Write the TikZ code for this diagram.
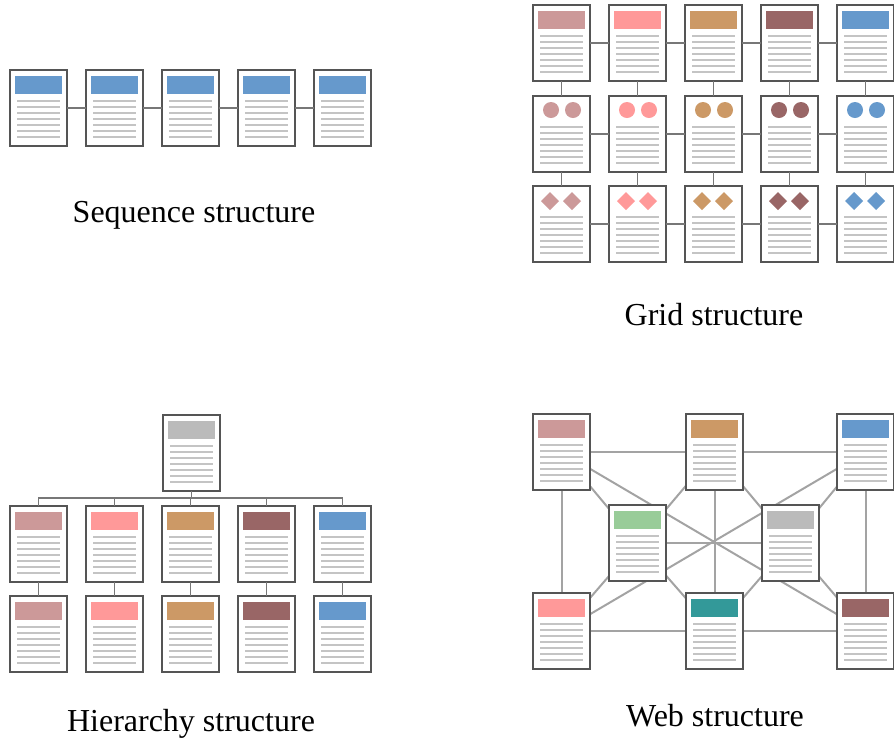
\documentclass[tikz,border=0pt]{standalone}
\usepackage{fontspec}
\setmainfont{Liberation Serif}
\usetikzlibrary{backgrounds}

\definecolor{boxgrey}{HTML}{555555}
\definecolor{textgrey}{HTML}{C4C4C4}
\definecolor{linkgrey}{HTML}{777777}
\definecolor{webgrey}{HTML}{A3A3A3}
\definecolor{rose}{HTML}{CC9999}
\definecolor{pink}{HTML}{FF9999}
\definecolor{tan}{HTML}{CC9966}
\definecolor{maroon}{HTML}{996666}
\definecolor{steel}{HTML}{6699CC}
\definecolor{ash}{HTML}{BBBBBB}
\definecolor{leaf}{HTML}{99CC99}
\definecolor{teal}{HTML}{339999}

\tikzstyle{pagebox}=[draw=boxgrey, line width=1pt, fill=white, minimum width=28.5pt, minimum height=38pt, inner sep=0pt, outer sep=0pt]
\tikzstyle{textline}=[draw=textgrey, line width=0.9pt]
\tikzstyle{link}=[draw=linkgrey, line width=0.9pt]
\tikzstyle{weblink}=[draw=webgrey, line width=1pt]
\tikzstyle{caption}=[anchor=base, font=\fontsize{16}{19}\selectfont]

\newcommand{\headbar}[1]{\fill[#1] (5,6) rectangle (52,24);}
\newcommand{\headdots}[1]{\fill[#1] (18,14) circle (8) (40,14) circle (8);}
\newcommand{\headgems}[1]{\fill[#1] (17,6) -- (26,15) -- (17,24) -- (8,15) -- cycle (39,6) -- (48,15) -- (39,24) -- (30,15) -- cycle;}
\newcommand{\docpage}[4]{%
	\node[pagebox] (#1) at (#2+28.5,#3+38) {};
	\begin{scope}[shift={(#2,#3)}]
		#4
		\draw[textline] (7,31) -- (50,31) (7,37) -- (50,37) (7,43) -- (50,43) (7,49) -- (50,49)
			(7,55) -- (50,55) (7,61) -- (50,61) (7,67) -- (50,67);
	\end{scope}}

\begin{document}
\begin{tikzpicture}[x=0.5pt,y=-0.5pt]
	\useasboundingbox (0,0) rectangle (894,741);
	% sequence
	\docpage{s1}{10}{70}{\headbar{steel}}
	\docpage{s2}{86}{70}{\headbar{steel}}
	\docpage{s3}{162}{70}{\headbar{steel}}
	\docpage{s4}{238}{70}{\headbar{steel}}
	\docpage{s5}{314}{70}{\headbar{steel}}
	\draw[link] (s1) -- (s2);
	\draw[link] (s2) -- (s3);
	\draw[link] (s3) -- (s4);
	\draw[link] (s4) -- (s5);
	\node[caption] (seqcap) at (194,222) {Sequence structure};
	% grid
	\docpage{g11}{533}{5}{\headbar{rose}}
	\docpage{g12}{609}{5}{\headbar{pink}}
	\docpage{g13}{685}{5}{\headbar{tan}}
	\docpage{g14}{761}{5}{\headbar{maroon}}
	\docpage{g15}{837}{5}{\headbar{steel}}
	\docpage{g21}{533}{96}{\headdots{rose}}
	\docpage{g22}{609}{96}{\headdots{pink}}
	\docpage{g23}{685}{96}{\headdots{tan}}
	\docpage{g24}{761}{96}{\headdots{maroon}}
	\docpage{g25}{837}{96}{\headdots{steel}}
	\docpage{g31}{533}{186}{\headgems{rose}}
	\docpage{g32}{609}{186}{\headgems{pink}}
	\docpage{g33}{685}{186}{\headgems{tan}}
	\docpage{g34}{761}{186}{\headgems{maroon}}
	\docpage{g35}{837}{186}{\headgems{steel}}
	\draw[link] (g11) -- (g12); \draw[link] (g12) -- (g13); \draw[link] (g13) -- (g14); \draw[link] (g14) -- (g15);
	\draw[link] (g21) -- (g22); \draw[link] (g22) -- (g23); \draw[link] (g23) -- (g24); \draw[link] (g24) -- (g25);
	\draw[link] (g31) -- (g32); \draw[link] (g32) -- (g33); \draw[link] (g33) -- (g34); \draw[link] (g34) -- (g35);
	\draw[link] (g11) -- (g21); \draw[link] (g12) -- (g22); \draw[link] (g13) -- (g23); \draw[link] (g14) -- (g24); \draw[link] (g15) -- (g25);
	\draw[link] (g21) -- (g31); \draw[link] (g22) -- (g32); \draw[link] (g23) -- (g33); \draw[link] (g24) -- (g34); \draw[link] (g25) -- (g35);
	\node[caption] (gridcap) at (714,325) {Grid structure};
	% hierarchy
	\docpage{h0}{163}{415}{\headbar{ash}}
	\docpage{h1}{10}{506}{\headbar{rose}}
	\docpage{h2}{86}{506}{\headbar{pink}}
	\docpage{h3}{162}{506}{\headbar{tan}}
	\docpage{h4}{238}{506}{\headbar{maroon}}
	\docpage{h5}{314}{506}{\headbar{steel}}
	\docpage{k1}{10}{596}{\headbar{rose}}
	\docpage{k2}{86}{596}{\headbar{pink}}
	\docpage{k3}{162}{596}{\headbar{tan}}
	\docpage{k4}{238}{596}{\headbar{maroon}}
	\docpage{k5}{314}{596}{\headbar{steel}}
	\coordinate (bus) at (191.5,498);
	\draw[link] (h0) -- (bus);
	\draw[link] (h1.north) -- (h1.north |- bus) -- (h5.north |- bus) -- (h5.north);
	\draw[link] (h2.north) -- (h2.north |- bus);
	\draw[link] (h3.north) -- (h3.north |- bus);
	\draw[link] (h4.north) -- (h4.north |- bus);
	\draw[link] (h1) -- (k1); \draw[link] (h2) -- (k2); \draw[link] (h3) -- (k3); \draw[link] (h4) -- (k4); \draw[link] (h5) -- (k5);
	\node[caption] (hiercap) at (191,731) {Hierarchy structure};
	% web
	\docpage{tl}{533}{414}{\headbar{rose}}
	\docpage{tm}{686}{414}{\headbar{tan}}
	\docpage{tr}{837}{414}{\headbar{steel}}
	\docpage{ml}{609}{505}{\headbar{leaf}}
	\docpage{mr}{762}{505}{\headbar{ash}}
	\docpage{bl}{533}{593}{\headbar{pink}}
	\docpage{bm}{686}{593}{\headbar{teal}}
	\docpage{br}{837}{593}{\headbar{maroon}}
	\begin{scope}[on background layer]
		\draw[weblink] (tl.center) -- (tm.center) -- (tr.center) -- (br.center) -- (bm.center) -- (bl.center) -- cycle;
		\draw[weblink] (tm.center) -- (bm.center);
		\draw[weblink] (ml.center) -- (mr.center);
		\draw[weblink] (tl.center) -- (br.center);
		\draw[weblink] (bl.center) -- (tr.center);
		\draw[weblink] (ml.center) -- (tl.center); \draw[weblink] (ml.center) -- (tm.center);
		\draw[weblink] (ml.center) -- (bl.center); \draw[weblink] (ml.center) -- (bm.center);
		\draw[weblink] (mr.center) -- (tm.center); \draw[weblink] (mr.center) -- (tr.center);
		\draw[weblink] (mr.center) -- (bm.center); \draw[weblink] (mr.center) -- (br.center);
	\end{scope}
	\node[caption] (webcap) at (715,726) {Web structure};
\end{tikzpicture}
\end{document}
